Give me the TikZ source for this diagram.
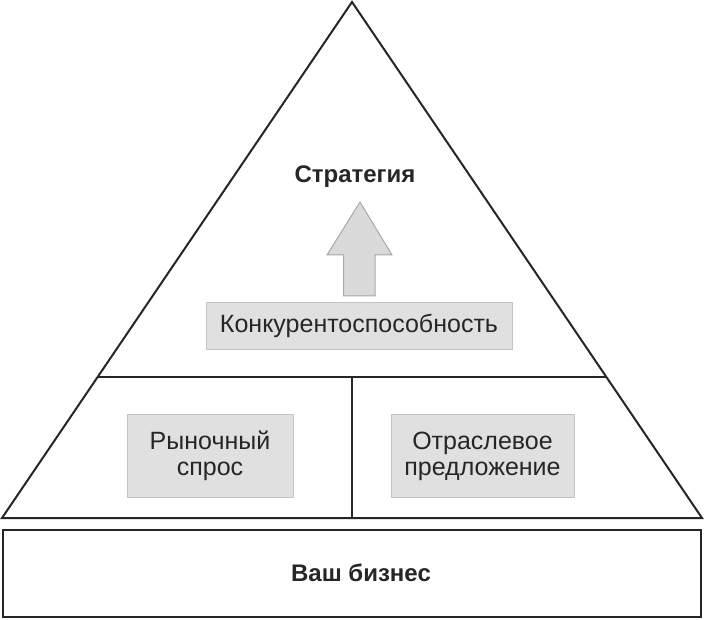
\documentclass[tikz,border=0pt]{standalone}
\usepackage{fontspec}
\setmainfont{Liberation Sans}
\definecolor{ink}{HTML}{262626}
\definecolor{boxfill}{HTML}{E0E0E0}
\definecolor{boxline}{HTML}{C4C4C4}
\definecolor{arrfill}{HTML}{DADADA}
\definecolor{arrline}{HTML}{A8A8A8}
\begin{document}
\begin{tikzpicture}[x=1pt,y=-1pt,
  frame/.style={draw=ink,line width=2pt,line join=miter},
  graybox/.style={draw=boxline,fill=boxfill,line width=1pt,rectangle,inner sep=0pt},
  lbl/.style={text=ink,font=\fontsize{25}{29}\selectfont,align=center},
  blbl/.style={text=ink,font=\fontsize{24}{28}\selectfont\bfseries,align=center}]
\useasboundingbox (0,0) rectangle (704,620);
% pyramid
\coordinate (apex) at (352,2);
\coordinate (bl) at (2,518);
\coordinate (br) at (702,518);
\coordinate (ml) at (97.6,377);
\coordinate (mr) at (606.4,377);
\coordinate (mt) at (352,377);
\coordinate (mb) at (352,518);
\draw[frame] (apex) -- (br) -- (bl) -- cycle;
\draw[frame] (ml) -- (mr);
\draw[frame] (mt) -- (mb);
% base
\node[draw=ink,line width=2.2pt,minimum width=698pt,minimum height=87pt,inner sep=0pt] (base) at (352,573.5) {};
\node[blbl] (biz) at (361,573) {Ваш бизнес};
% boxes
\node[graybox,minimum width=306pt,minimum height=46pt] (konk) at (359,326) {};
\node[lbl] at (konk.center) {Конкурентоспособность};
\node[graybox,minimum width=166pt,minimum height=83pt] (rynok) at (210,456) {};
\node[lbl] at (rynok.center) {Рыночный\\[-3pt]спрос};
\node[graybox,minimum width=183pt,minimum height=83pt] (otr) at (482.5,456) {};
\node[lbl] at (otr.center) {Отраслевое\\[-3pt]предложение};
% strategy
\node[blbl] (strat) at (355,177) {Стратегия};
% arrow
\coordinate (a1) at (343.5,296);
\coordinate (a2) at (343.5,255);
\coordinate (a3) at (327,255);
\coordinate (a4) at (360,202);
\coordinate (a5) at (392,255);
\coordinate (a6) at (375,255);
\coordinate (a7) at (375,296);
\draw[draw=arrline,fill=arrfill,line width=1pt] (a1) -- (a2) -- (a3) -- (a4) -- (a5) -- (a6) -- (a7) -- cycle;
\end{tikzpicture}
\end{document}
